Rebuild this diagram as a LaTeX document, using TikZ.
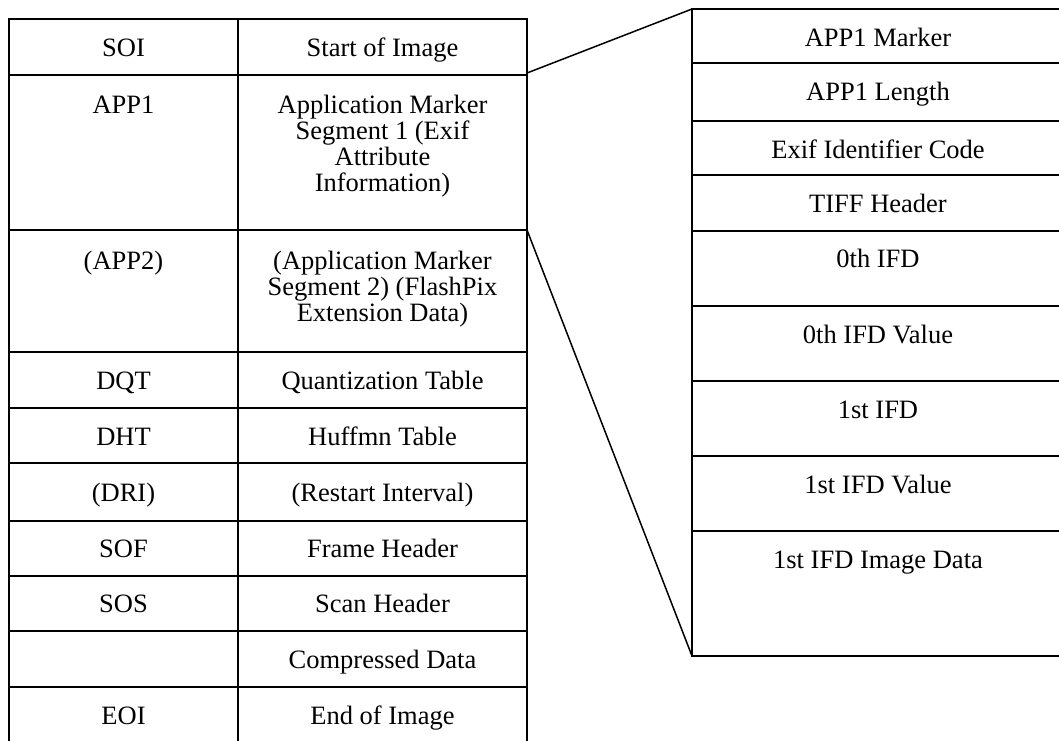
\documentclass[tikz,border=0pt]{standalone}
\usepackage{fontspec}
\setmainfont{Liberation Serif}
\begin{document}
\begin{tikzpicture}[x=1pt,y=-1pt,
  tab/.style={line width=2.4pt},
  conn/.style={line width=1.5pt},
  lbl/.style={font=\fontsize{26.5}{26}\selectfont, inner sep=0pt, anchor=base},
  mlbl/.style={lbl, anchor=north, align=center}]
\useasboundingbox (0,0) rectangle (1059,740);
\clip (0,0) rectangle (1059,740);
% left table
\draw[tab] (9,19) rectangle (527,742);
\draw[tab] (238,19) -- (238,742);
\foreach \y in {75,230,352,408,463,521,576,631,687}
  \draw[tab] (9,\y) -- (527,\y);
% right table
\draw[tab] (692,9) rectangle (1064,656);
\foreach \y in {63,121,175,231,306,381,456,531}
  \draw[tab] (692,\y) -- (1064,\y);
% connector end points
\coordinate (L1) at (527,73);
\coordinate (L2) at (527,230);
\coordinate (R0) at (692,9);
\coordinate (R9) at (692,656);
\draw[conn] (L1) -- (R0);
\draw[conn] (L2) -- (R9);
% left labels
\node[lbl] (soi)  at (123.5,56) {SOI};
\node[lbl] (soid) at (382.5,56) {Start of Image};
\node[lbl] (app1) at (123.5,113) {APP1};
\node[mlbl] (app1d) at (382.5,95) {Application Marker\\Segment 1 (Exif\\Attribute\\Information)};
\node[lbl] (app2) at (123.5,269) {(APP2)};
\node[mlbl] (app2d) at (382.5,251) {(Application Marker\\Segment 2) (FlashPix\\Extension Data)};
\node[lbl] (dqt)  at (123.5,389) {DQT};
\node[lbl] (dqtd) at (382.5,389) {Quantization Table};
\node[lbl] (dht)  at (123.5,445) {DHT};
\node[lbl] (dhtd) at (382.5,445) {Huffmn Table};
\node[lbl] (dri)  at (123.5,501) {(DRI)};
\node[lbl] (drid) at (382.5,501) {(Restart Interval)};
\node[lbl] (sof)  at (123.5,557) {SOF};
\node[lbl] (sofd) at (382.5,557) {Frame Header};
\node[lbl] (sos)  at (123.5,612) {SOS};
\node[lbl] (sosd) at (382.5,612) {Scan Header};
\node[lbl] (cmpd) at (382.5,668) {Compressed Data};
\node[lbl] (eoi)  at (123.5,724) {EOI};
\node[lbl] (eoid) at (382.5,724) {End of Image};
% right labels
\node[lbl] (r1) at (878,46)  {APP1 Marker};
\node[lbl] (r2) at (878,100) {APP1 Length};
\node[lbl] (r3) at (878,158) {Exif Identifier Code};
\node[lbl] (r4) at (878,212) {TIFF Header};
\node[lbl] (r5) at (878,267) {0th IFD};
\node[lbl] (r6) at (878,343) {0th IFD Value};
\node[lbl] (r7) at (878,418) {1st IFD};
\node[lbl] (r8) at (878,493) {1st IFD Value};
\node[lbl] (r9) at (878,568) {1st IFD Image Data};
\end{tikzpicture}
\end{document}
